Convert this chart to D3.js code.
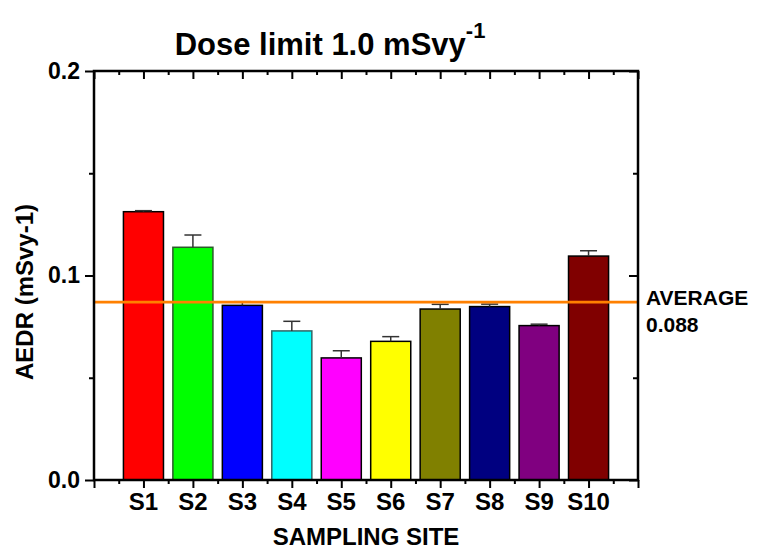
<!DOCTYPE html>
<html>
<head>
<meta charset="utf-8">
<script src="https://cdn.jsdelivr.net/npm/d3@7"></script>
<style>
  html, body { margin: 0; padding: 0; background: #fff; }
  text { font-family: "Liberation Sans", Arial, sans-serif; font-weight: bold; fill: #000; }
</style>
</head>
<body>
<svg id="chart" width="763" height="551"></svg>
<script>
// ---- data ----
const sites = ["S1", "S2", "S3", "S4", "S5", "S6", "S7", "S8", "S9", "S10"];
const aedr = [0.1312, 0.1138, 0.0854, 0.0729, 0.0597, 0.0678, 0.0836, 0.0848, 0.0755, 0.1095];
const aedrErr = [0.0005, 0.0060, 0.0018, 0.0047, 0.0035, 0.0023, 0.0023, 0.0012, 0.0007, 0.0026];
const barColors = ["#FF0000", "#00FF00", "#0000FF", "#00FFFF", "#FF00FF", "#FFFF00", "#808000", "#000080", "#800080", "#800000"];
const barStrokes = ["#000000", "#2a5a2a", "#000000", "#336666", "#000000", "#000000", "#000000", "#000000", "#000000", "#000000"];
const yMajorTicks = [0.0, 0.1, 0.2];
const yMinorTicks = [0.05, 0.15];
const averageLine = 0.087;
const averageLabel = ["AVERAGE", "0.088"];

// ---- layout ----
const svg = d3.select("#chart");
const L = 94, R = 638, T = 71, B = 480;

const x = d3.scaleLinear().domain([0, sites.length + 1]).range([L, R]);
const y = d3.scaleLinear().domain([0, 0.2]).range([B, T]);
const stepPx = x(1) - x(0);
const barW = stepPx * 0.81;

// bars
const g = svg.append("g");
g.selectAll("rect.bar").data(sites).enter().append("rect")
  .attr("class", "bar")
  .attr("x", (d, i) => x(i + 1) - barW / 2)
  .attr("y", (d, i) => y(aedr[i]))
  .attr("width", barW)
  .attr("height", (d, i) => y(0) - y(aedr[i]))
  .attr("fill", (d, i) => barColors[i])
  .attr("stroke", (d, i) => barStrokes[i])
  .attr("stroke-width", 1.5);

// error bars (upper only)
const capW = 17;
const eg = g.selectAll("g.err").data(sites).enter().append("g").attr("class", "err");
eg.append("line")
  .attr("x1", (d, i) => x(i + 1)).attr("x2", (d, i) => x(i + 1))
  .attr("y1", (d, i) => y(aedr[i])).attr("y2", (d, i) => y(aedr[i] + aedrErr[i]))
  .attr("stroke", "#333").attr("stroke-width", 1.5);
eg.append("line")
  .attr("x1", (d, i) => x(i + 1) - capW / 2).attr("x2", (d, i) => x(i + 1) + capW / 2)
  .attr("y1", (d, i) => y(aedr[i] + aedrErr[i])).attr("y2", (d, i) => y(aedr[i] + aedrErr[i]))
  .attr("stroke", "#333").attr("stroke-width", 1.5);

// average line
svg.append("line")
  .attr("x1", L).attr("x2", R)
  .attr("y1", y(averageLine)).attr("y2", y(averageLine))
  .attr("stroke", "#FF8000").attr("stroke-width", 2.6);

// ---- axes ----
const xMajor = d3.range(0, sites.length + 2);
const xMinor = d3.range(0, sites.length + 1).map(v => v + 0.5);

// bottom axis: outward ticks, labels placed at fixed baseline
svg.append("g").attr("transform", `translate(0,${B})`)
  .call(d3.axisBottom(x).tickValues(xMajor).tickSize(8).tickFormat(""));
svg.append("g").attr("transform", `translate(0,${B})`)
  .call(d3.axisBottom(x).tickValues(xMinor).tickSize(4).tickFormat(""));
svg.append("g").selectAll("text").data(sites).enter().append("text")
  .attr("x", (d, i) => x(i + 1)).attr("y", 510)
  .attr("text-anchor", "middle").style("font-size", "24px").text(d => d);

// top axis: inward ticks
svg.append("g").attr("transform", `translate(0,${T})`)
  .call(d3.axisBottom(x).tickValues(xMajor).tickSize(8).tickFormat(""));
svg.append("g").attr("transform", `translate(0,${T})`)
  .call(d3.axisBottom(x).tickValues(xMinor).tickSize(4).tickFormat(""));

// left axis: outward ticks
svg.append("g").attr("transform", `translate(${L},0)`)
  .call(d3.axisLeft(y).tickValues(yMajorTicks).tickSize(9).tickPadding(5).tickFormat(d3.format(".1f")));
svg.append("g").attr("transform", `translate(${L},0)`)
  .call(d3.axisLeft(y).tickValues(yMinorTicks).tickSize(5).tickFormat(""));

// right axis: inward ticks
svg.append("g").attr("transform", `translate(${R},0)`)
  .call(d3.axisLeft(y).tickValues(yMajorTicks).tickSize(9).tickFormat(""));
svg.append("g").attr("transform", `translate(${R},0)`)
  .call(d3.axisLeft(y).tickValues(yMinorTicks).tickSize(5).tickFormat(""));

svg.selectAll(".domain").remove();
svg.selectAll(".tick line").attr("stroke", "#000").attr("stroke-width", 2);
svg.selectAll(".tick text").style("font-size", "23px").style("font-family", "Liberation Sans, Arial, sans-serif").style("font-weight", "bold").attr("fill", "#000");

// frame
svg.append("rect").attr("x", L).attr("y", T).attr("width", R - L).attr("height", B - T)
  .attr("fill", "none").attr("stroke", "#000").attr("stroke-width", 2.5);

// titles
const title = svg.append("text").attr("x", 330).attr("y", 55).attr("text-anchor", "middle")
  .style("font-size", "31px");
title.append("tspan").text("Dose limit 1.0 mSvy");
title.append("tspan").attr("dy", -17).style("font-size", "22px").text("-1");

svg.append("text").attr("x", 366).attr("y", 545).attr("text-anchor", "middle")
  .style("font-size", "24px").text("SAMPLING SITE");

svg.append("text").attr("transform", "translate(33,292) rotate(-90)").attr("text-anchor", "middle")
  .style("font-size", "24px").text("AEDR (mSvy-1)");

const avg = svg.append("text").style("font-size", "21px");
avg.append("tspan").attr("x", 646).attr("y", 305).text(averageLabel[0]);
avg.append("tspan").attr("x", 646).attr("y", 332).text(averageLabel[1]);
</script>
</body>
</html>
